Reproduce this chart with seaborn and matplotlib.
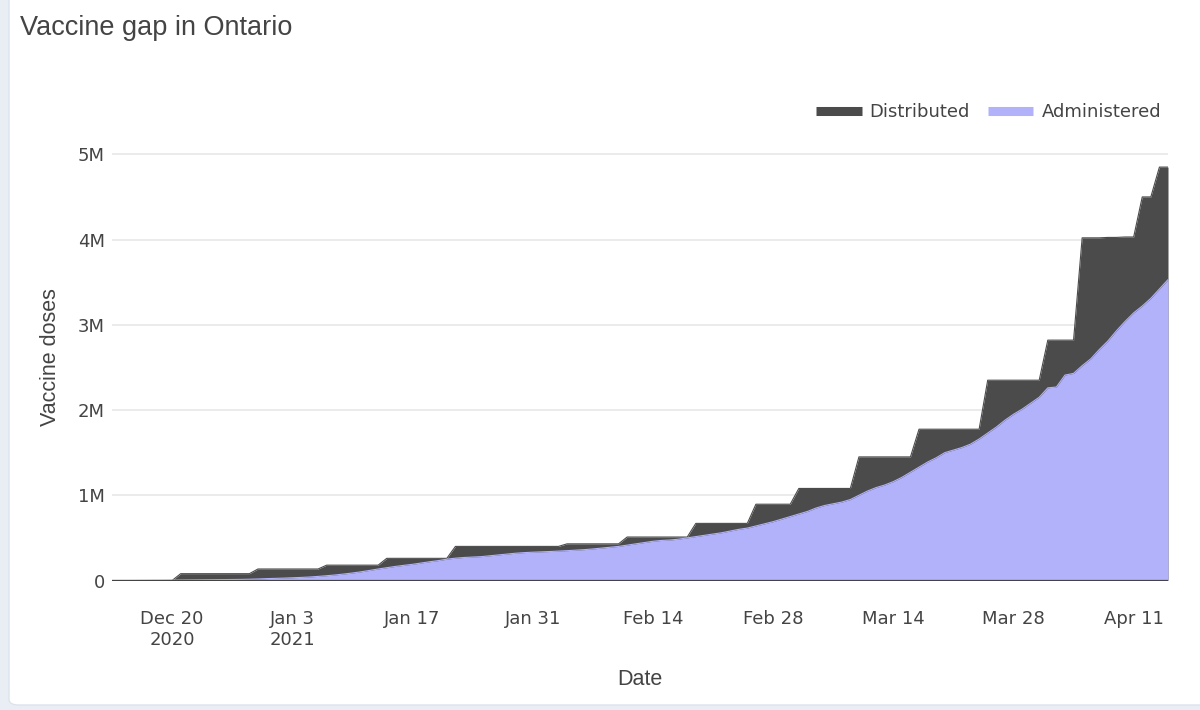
import numpy as np
import pandas as pd
import matplotlib
matplotlib.use("Agg")
import matplotlib.pyplot as plt
from matplotlib.ticker import FuncFormatter
from matplotlib.lines import Line2D
from matplotlib.patches import FancyBboxPatch
import seaborn as sns

# ---------------- data (millions of doses, daily Dec 13 2020 - Apr 15 2021) -------------
dates = pd.date_range("2020-12-13", "2021-04-15", freq="D")

distributed = [
    # Dec 13 - Dec 31
    0, 0, 0, 0, 0, 0, 0, 0, 0.08, 0.08, 0.08, 0.08, 0.08, 0.08, 0.08, 0.08, 0.08, 0.135, 0.135,
    # Jan
    0.135, 0.135, 0.135, 0.135, 0.135, 0.135, 0.18, 0.18, 0.18, 0.18, 0.18, 0.18, 0.18,
    0.26, 0.26, 0.26, 0.26, 0.26, 0.26, 0.26, 0.26,
    0.40, 0.40, 0.40, 0.40, 0.40, 0.40, 0.40, 0.40, 0.40, 0.40,
    # Feb
    0.40, 0.40, 0.40, 0.43, 0.43, 0.43, 0.43, 0.43, 0.43, 0.43,
    0.51, 0.51, 0.51, 0.51, 0.51, 0.51, 0.51, 0.51,
    0.67, 0.67, 0.67, 0.67, 0.67, 0.67, 0.67, 0.895, 0.895, 0.895,
    # Mar
    0.895, 0.895, 1.08, 1.08, 1.08, 1.08, 1.08, 1.08, 1.08,
    1.45, 1.45, 1.45, 1.45, 1.45, 1.45, 1.45,
    1.775, 1.775, 1.775, 1.775, 1.775, 1.775, 1.775, 1.775,
    2.35, 2.35, 2.35, 2.35, 2.35, 2.35, 2.35,
    # Apr 1 - 15
    2.82, 2.82, 2.82, 2.82, 4.02, 4.02, 4.02, 4.025, 4.025, 4.03, 4.03, 4.50, 4.50, 4.85, 4.85,
]

administered = [
    # Dec 13 - Dec 31
    0, 0, 0.0002, 0.001, 0.002, 0.003, 0.004, 0.005, 0.006, 0.007, 0.008, 0.009, 0.010,
    0.011, 0.012, 0.013, 0.015, 0.018, 0.022,
    # Jan
    0.025, 0.028, 0.032, 0.036, 0.041, 0.048, 0.056, 0.065, 0.076, 0.088,
    0.102, 0.118, 0.135, 0.15, 0.165, 0.178, 0.19, 0.205, 0.22, 0.233,
    0.25, 0.262, 0.27, 0.275, 0.28, 0.29, 0.30, 0.31, 0.32, 0.327, 0.332,
    # Feb
    0.336, 0.34, 0.345, 0.35, 0.356, 0.362, 0.37, 0.38, 0.39, 0.40,
    0.415, 0.43, 0.445, 0.46, 0.47, 0.475, 0.485, 0.50, 0.515, 0.53,
    0.545, 0.56, 0.58, 0.60, 0.615, 0.64, 0.665, 0.69,
    # Mar
    0.72, 0.75, 0.78, 0.81, 0.85, 0.88, 0.90, 0.92, 0.95, 1.00,
    1.05, 1.09, 1.12, 1.16, 1.21, 1.27, 1.33, 1.39, 1.44, 1.50,
    1.53, 1.56, 1.60, 1.66, 1.73, 1.80, 1.88, 1.95, 2.01, 2.08, 2.15,
    # Apr 1 - 15
    2.26, 2.27, 2.41, 2.43, 2.52, 2.60, 2.71, 2.81, 2.93, 3.04, 3.14, 3.22, 3.31, 3.42, 3.53,
]

series_names = ["Distributed", "Administered"]
series_colors = ["#4b4b4b", "#b2b2fa"]

tick_dates = ["2020-12-20", "2021-01-03", "2021-01-17", "2021-01-31", "2021-02-14",
              "2021-02-28", "2021-03-14", "2021-03-28", "2021-04-11"]
tick_labels = ["Dec 20\n2020", "Jan 3\n2021", "Jan 17", "Jan 31", "Feb 14",
               "Feb 28", "Mar 14", "Mar 28", "Apr 11"]

df = pd.DataFrame({"Date": dates, "Distributed": distributed, "Administered": administered})

# ---------------- figure ----------------
sns.set_theme(style="white")
plt.rcParams["font.family"] = ["DejaVu Sans"]
TXT = "#444444"

fig = plt.figure(figsize=(12, 7.1), dpi=100)
fig.patch.set_facecolor("#e9eef5")
card = FancyBboxPatch((9 / 1200, 5 / 710), 1.2, 1.2, boxstyle="round,pad=0,rounding_size=0.008",
                      transform=fig.transFigure, facecolor="white", edgecolor="#dde3ec",
                      linewidth=1.0, zorder=-10)
fig.patches.append(card)

ax = fig.add_axes([112 / 1200, (710 - 580.5) / 710, 1056 / 1200, (580.5 - 133) / 710])
ax.set_zorder(5)
ax.set_facecolor("none")

for name, col in zip(series_names, series_colors):
    ax.fill_between(df["Date"], 0, df[name], color=col, linewidth=0, zorder=2)
    sns.lineplot(data=df, x="Date", y=name, ax=ax, color=col, linewidth=0.8, zorder=3,
                 legend=False)

ax.axhline(0, color="#444444", linewidth=1.6, zorder=4)

ax.set_xlim(dates[0], dates[-1])
ax.set_ylim(0, 5.25)
ax.set_yticks([0, 1, 2, 3, 4, 5])
ax.yaxis.set_major_formatter(FuncFormatter(lambda v, p: "0" if v == 0 else f"{int(v)}M"))
ax.set_xticks(pd.to_datetime(tick_dates))
ax.set_xticklabels(tick_labels)
ax.grid(axis="y", color="#e6e6e6", linewidth=1.1, zorder=1)
ax.grid(axis="x", visible=False)
ax.set_axisbelow(True)
for s in ax.spines.values():
    s.set_visible(False)
ax.tick_params(axis="x", length=0, pad=21, labelsize=13, labelcolor=TXT)
ax.tick_params(axis="y", length=0, pad=5, labelsize=13, labelcolor=TXT)
for t in ax.get_xticklabels():
    t.set_linespacing(1.25)

ax.set_xlabel("Date", fontsize=15.5, color=TXT, family=["Liberation Sans", "DejaVu Sans"],
              labelpad=14)
ax.set_ylabel("Vaccine doses", fontsize=15.5, color=TXT, family=["Liberation Sans", "DejaVu Sans"],
              labelpad=12)

fig.text(20 / 1200, 1 - 28 / 710, "Vaccine gap in Ontario", fontsize=19.5, color=TXT,
         family=["Liberation Sans", "DejaVu Sans"], va="center", ha="left")

handles = [Line2D([0], [0], color=c, linewidth=6.5, solid_capstyle="butt") for c in series_colors]
leg = fig.legend(handles, series_names, loc="center right",
                 bbox_to_anchor=(1161 / 1200, 1 - 112 / 710), frameon=False, fontsize=13,
                 handlelength=2.5, handletextpad=0.45, columnspacing=1.0, ncol=2,
                 borderaxespad=0, borderpad=0)
for t in leg.get_texts():
    t.set_color(TXT)

fig.savefig("out.png", dpi=100, facecolor=fig.get_facecolor())
